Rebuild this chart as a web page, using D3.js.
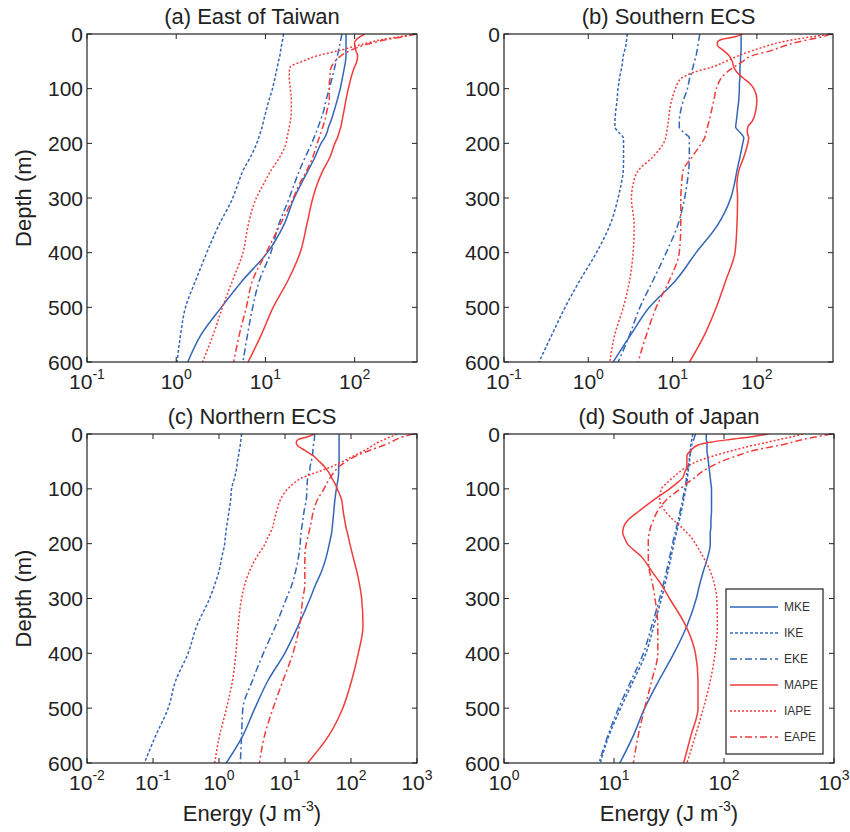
<!DOCTYPE html>
<html><head><meta charset="utf-8">
<script src="https://cdn.jsdelivr.net/npm/d3@7"></script>
<style>body{margin:0;background:#fff} text{font-family:"Liberation Sans",Arial,sans-serif;fill:#222}</style>
</head><body><svg id="c" width="850" height="832"></svg>
<script>
const depths = [0,5,10,15,20,30,40,50,60,70,80,90,100,120,140,160,170,180,190,200,225,250,275,300,350,400,450,500,550,600];
const depthTicks = [0,100,200,300,400,500,600];
const seriesNames = ["MKE","IKE","EKE","MAPE","IAPE","EAPE"];
const titles = ["(a) East of Taiwan","(b) Southern ECS","(c) Northern ECS","(d) South of Japan"];
const xDomains = [[0.1,500],[0.1,800],[0.01,1000],[1,1000]];

// (a) East of Taiwan
const aMKE  = [80,80,80,80,80,80,80,79,77,75,73,71,69,64,59,54,51,49,46,42,36,30,25,21,16,10.5,5.6,3.2,1.9,1.35];
const aIKE  = [16,15.8,15.6,15.4,15.2,14.8,14.5,14,13.6,13.2,12.8,12.4,12,11,10.2,9.5,9.2,8.8,8.4,8,6.8,5.6,4.9,4.3,3.0,2.2,1.66,1.27,1.12,1.02];
const aEKE  = [72,71,70,69,68,66,64,62,60,58,56,54,52,48,45,41,39,37,35,33,28,24,21,18.5,14,11.5,8.6,7.2,6.3,5.6];
const aMAPE = [130,115,105,100,100,103,108,106,100,95,91,88,85,80,76,72,70,67,64,60,53,44,38,34,29,24.5,18,12.2,9,6.4];
const aIAPE = [470,320,206,150,115,68,38,26,19,18.5,18.5,18.7,19,19.5,19.5,19,18.5,18,17.5,17,14.5,11.5,9.5,7.9,6.4,5.6,4.3,3.3,2.6,1.97];
const aEAPE = [490,350,230,170,130,90,70,60,55,53,53,52,52,52,49,46,44,42,40,38,34,29,24,20.5,14.5,10.2,7.2,6.1,5.1,4.4];

// (b) Southern ECS
const bMKE  = [65,65,65,65,65,65,64,64,63,63,63,62,62,61,59,57,56,63,70,68,63,58,54,49,34,19,11,5.3,3.2,1.97];
const bIKE  = [2.9,2.88,2.85,2.82,2.8,2.7,2.6,2.55,2.5,2.42,2.35,2.3,2.25,2.2,2.12,2.07,2.07,2.3,2.6,2.62,2.62,2.6,2.45,2.26,1.8,1.25,0.8,0.53,0.37,0.26];
const bEKE  = [21,20.8,20.5,20.2,20,19.5,19,18.2,17.5,16.8,16,15.5,15,13.5,12.5,12,12,13.5,15.8,15.8,15.8,15.5,14.8,13.9,11.5,8.4,5.9,4.1,3.1,2.26];
const bMAPE = [68,55,38,34,34,40,47,51,53,58,68,82,92,100,97,88,78,77,80,78,70,61,58,59,58,55,43,33,24,15.9];
const bIAPE = [780,450,280,190,145,90,60,43,30,18,13,11.5,10.8,9.8,9.2,8.9,8.7,8.5,8.3,7.8,5.8,3.9,3.4,3.25,3.5,3.4,3.1,2.6,2.06,1.8];
const bEAPE = [750,600,420,300,230,150,87,68,54,44,38,35,33,31,29,27,26,25,24,22,17,13.3,12.8,12.5,12.5,12,9.2,6.4,4.9,3.9];

// (c) Northern ECS
const cMKE  = [66,66,66,66,66,66,66,66,65,65,64,62,60,57,55,53,52,51,49,47,42,36,29,24,15.8,9.9,5.5,3.5,2.3,1.29];
const cIKE  = [2.2,2.18,2.15,2.12,2.1,2.03,1.97,1.9,1.86,1.8,1.72,1.62,1.55,1.5,1.42,1.34,1.3,1.27,1.24,1.22,1.1,1.0,0.86,0.72,0.46,0.34,0.22,0.17,0.11,0.074];
const cEKE  = [28,28,27.8,27.5,27,26.5,26,25,24,23.5,22,21.7,21.5,21,19.5,18.5,18,17.5,17.2,17,16,14.5,12.7,10.5,7.2,4.7,3.2,2.3,2.2,2.1];
const cMAPE = [28,22,16,14.8,15.2,20,27,33,40,46,51,57,62,72,76,81,84,88,92,96,108,122,135,145,152,129,102,75,46,22];
const cIAPE = [500,400,320,260,220,160,110,75,50,30,18,13.5,11,8.5,7.5,6.8,6.5,6,5.4,5.0,3.7,2.9,2.45,2.2,1.95,1.8,1.6,1.3,1.02,0.86];
const cEAPE = [880,620,480,400,320,190,120,85,65,55,48,43,39,31,27,25,24,23,22,21,20,20,20,18.6,16.6,13.2,9.3,6.6,4.9,4.1];

// (d) South of Japan
const dMKE  = [69,69,69,70,70,70,71,72,73,74,75,76,77,77,77,76,76,75,75,75,71,65,60,56,46,35,25.5,19,15,11.3];
const dIKE  = [52,51.5,51,50.5,50,49.5,49,48.5,48,47,46.5,46,45,43,41,39,38,37,36,35,33,31,29,27,23,19.5,15,11.5,9,7.5];
const dEKE  = [55,54,53,52,51,50,49,48,47,46,45.5,45,44,42,40,38,37,36,35,34,32,30,28,26,22,18.5,14.3,11,8.8,7.3];
const dMAPE = [253,180,113,75,58,50,46,46,46,44,42,37,32,23,17,13,12.2,12,12.5,13.2,18,22,27,32,45,55,58,58,50,43];
const dIAPE = [520,420,320,250,190,120,80,57,46,39,34,30,27,26,29,36,41,46,51,55,65,75,82,86,87,83,75,65,55,46];
const dEAPE = [950,700,520,420,330,185,130,95,75,62,54,46,40,30,25,22.5,21.5,21,20.5,20.5,20.5,21,22.5,23.6,25,25,22,19,16.6,15];

const panelSeries = [
  [aMKE,aIKE,aEKE,aMAPE,aIAPE,aEAPE],
  [bMKE,bIKE,bEKE,bMAPE,bIAPE,bEAPE],
  [cMKE,cIKE,cEKE,cMAPE,cIAPE,cEAPE],
  [dMKE,dIKE,dEKE,dMAPE,dIAPE,dEAPE]
];

const BLUE = "#3366b8", RED = "#f23b3b";
const seriesColor = [BLUE,BLUE,BLUE,RED,RED,RED];
const seriesDash = [null,"3,2","7,3,2,3",null,"2,2","7,3,2,3"];

const boxes = [
  {x0:87, x1:417, y0:34, y1:362},
  {x0:504,x1:833, y0:34, y1:362},
  {x0:87, x1:417, y0:434,y1:763},
  {x0:504,x1:834, y0:434,y1:763}
];

const svg = d3.select("#c");
svg.append("rect").attr("width",850).attr("height",832).attr("fill","#fff");

boxes.forEach((b,i)=>{
  const g = svg.append("g");
  const x = d3.scaleLog().domain(xDomains[i]).range([b.x0,b.x1]);
  const y = d3.scaleLinear().domain([0,600]).range([b.y0,b.y1]);
  const cx = (b.x0+b.x1)/2, cy=(b.y0+b.y1)/2;

  g.append("defs").append("clipPath").attr("id","clip"+i)
    .append("rect").attr("x",b.x0).attr("y",b.y0).attr("width",b.x1-b.x0).attr("height",b.y1-b.y0);

  // lines
  const line = d3.line().x(d=>x(d[0])).y(d=>y(d[1])).curve(d3.curveMonotoneY);
  const lg = g.append("g").attr("clip-path",`url(#clip${i})`);
  panelSeries[i].forEach((vals,k)=>{
    lg.append("path").datum(vals.map((v,j)=>[v,depths[j]]))
      .attr("d",line).attr("fill","none")
      .attr("stroke",seriesColor[k]).attr("stroke-width",1.5)
      .attr("stroke-dasharray",seriesDash[k]);
  });

  // box
  g.append("rect").attr("x",b.x0).attr("y",b.y0).attr("width",b.x1-b.x0).attr("height",b.y1-b.y0)
    .attr("fill","none").attr("stroke","#222").attr("stroke-width",1.2);

  // y ticks
  depthTicks.forEach(t=>{
    g.append("line").attr("x1",b.x0).attr("x2",b.x0+5).attr("y1",y(t)).attr("y2",y(t)).attr("stroke","#222");
    g.append("line").attr("x1",b.x1-5).attr("x2",b.x1).attr("y1",y(t)).attr("y2",y(t)).attr("stroke","#222");
    g.append("text").attr("x",b.x0-4).attr("y",y(t)).attr("dy","0.36em")
      .attr("text-anchor","end").attr("font-size",21).text(t);
  });

  // x ticks (decades)
  const e0 = Math.ceil(Math.log10(xDomains[i][0])-1e-9), e1 = Math.floor(Math.log10(xDomains[i][1])+1e-9);
  for(let e=e0;e<=e1;e++){
    const v = Math.pow(10,e), px = x(v);
    g.append("line").attr("x1",px).attr("x2",px).attr("y1",b.y1).attr("y2",b.y1-5).attr("stroke","#222");
    g.append("line").attr("x1",px).attr("x2",px).attr("y1",b.y0).attr("y2",b.y0+5).attr("stroke","#222");
    const t = g.append("text").attr("x",px).attr("y",b.y1+27).attr("text-anchor","middle").attr("font-size",21);
    t.append("tspan").text("10");
    t.append("tspan").attr("dy",-10).attr("font-size",14).text(String(e));
  }

  // title
  g.append("text").attr("x",cx).attr("y",b.y0-10).attr("text-anchor","middle").attr("font-size",22).text(titles[i]);

  if(i===0||i===2){
    g.append("text").attr("transform",`translate(31,${cy}) rotate(-90)`).attr("text-anchor","middle")
      .attr("font-size",22).text("Depth (m)");
  }
  if(i===2||i===3){
    const t = g.append("text").attr("x",cx).attr("y",821).attr("text-anchor","middle").attr("font-size",22);
    t.append("tspan").text("Energy (J m");
    t.append("tspan").attr("dy",-10).attr("font-size",14).text("-3");
    t.append("tspan").attr("dy",10).text(")");
  }

  if(i===3){
    const L = svg.append("g");
    L.append("rect").attr("x",726).attr("y",589).attr("width",97).attr("height",165)
      .attr("fill","#fff").attr("stroke","#222").attr("stroke-width",1.2);
    seriesNames.forEach((n,k)=>{
      const yy = 607 + k*26;
      L.append("line").attr("x1",730).attr("x2",778).attr("y1",yy).attr("y2",yy)
        .attr("stroke",seriesColor[k]).attr("stroke-width",1.5).attr("stroke-dasharray",seriesDash[k]);
      L.append("text").attr("x",784).attr("y",yy).attr("dy","0.36em").attr("font-size",12)
        .style("fill","#333").text(n);
    });
  }
});
</script>
</body></html>
